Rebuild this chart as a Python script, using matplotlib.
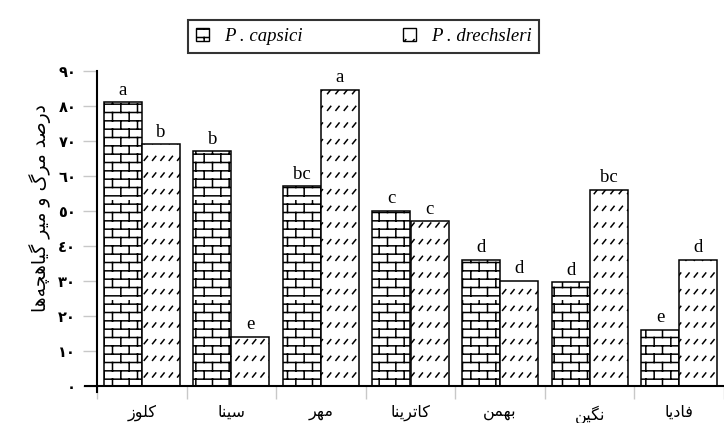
import numpy as np
import matplotlib
matplotlib.use('Agg')
import matplotlib.pyplot as plt
import matplotlib.hatch as mhatch
from matplotlib.path import Path
from matplotlib.patches import Patch

# cultivar names, already in shaped (presentation) form, visual order
cultivars = [
    '\uFEAF\uFEEE\uFEE0\uFB90',                      # کلوز
    '\uFE8E\uFEE8\uFBFF\uFEB3',                      # سینا
    '\uFEAE\uFEEC\uFEE3',                            # مهر
    '\uFE8E\uFEE8\uFBFE\uFEAE\uFE97\uFE8E\uFB90',    # کاترینا
    '\uFEE6\uFEE4\uFEEC\uFE91',                      # بهمن
    '\uFEE6\uFBFF\uFB95\uFEE7',                      # نگین
    '\uFE8E\uFBFE\uFEA9\uFE8E\uFED3',                # فادیا
]
capsici = [81, 67, 57, 50, 36, 29.5, 16]
drechsleri = [69, 14, 84.5, 47, 30, 56, 36]
capsici_groups = ['a', 'b', 'bc', 'c', 'd', 'd', 'e']
drechsleri_groups = ['b', 'e', 'a', 'c', 'd', 'bc', 'd']
y_ticks = [0, 10, 20, 30, 40, 50, 60, 70, 80, 90]
y_tick_labels = ['\u0660', '\u0661\u0660', '\u0662\u0660', '\u0663\u0660', '\u0664\u0660',
                 '\u0665\u0660', '\u0666\u0660', '\u0667\u0660', '\u0668\u0660', '\u0669\u0660']
# درصد مرگ و میر گیاهچه‌ها
y_title = ('\uFE8E\uFEEB\uFEEA\uFB7D\uFEEB\uFE8E\uFBFF\uFB94 '
           '\uFEAE\uFBFF\uFEE3 \uFEED \uFB92\uFEAE\uFEE3 '
           '\uFEAA\uFEBB\uFEAD\uFEA9')
series_names = ['P . capsici', 'P . drechsleri']


class BrickHatch(mhatch.HatchPatternBase):
    """brick wall, used for '*'"""
    rows = 12
    cols = 6

    def __init__(self, hatch, density):
        self.on = '*' in hatch
        self.num_vertices = (self.rows * 2 + self.rows * self.cols * 2) if self.on else 0

    def set_vertices_and_codes(self, vertices, codes):
        v = []
        for r in range(self.rows):
            y = (r + 0.5) / self.rows
            v += [(0.0, y), (1.0, y)]
        for r in range(self.rows):
            y0 = (r + 0.5) / self.rows
            y1 = (r + 1.5) / self.rows
            for j in range(self.cols):
                x = (j + 0.25 + 0.5 * (r % 2)) / self.cols
                v += [(x, y0), (x, y1)]
        vertices[:] = np.array(v)
        codes[0::2] = Path.MOVETO
        codes[1::2] = Path.LINETO


class DashHatch(mhatch.HatchPatternBase):
    """rows of short slanted strokes, used for 'o'"""
    rows = 6
    cols = 12

    def __init__(self, hatch, density):
        self.on = 'o' in hatch
        self.num_vertices = self.rows * self.cols * 2 if self.on else 0

    def set_vertices_and_codes(self, vertices, codes):
        v = []
        for r in range(self.rows):
            y = (r + 0.5) / self.rows
            for j in range(self.cols):
                x = (j + 0.5) / self.cols
                v += [(x - 0.016, y - 0.02), (x + 0.016, y + 0.02)]
        vertices[:] = np.array(v)
        codes[0::2] = Path.MOVETO
        codes[1::2] = Path.LINETO


mhatch._hatch_types = [t for t in mhatch._hatch_types
                       if t not in (mhatch.Stars, mhatch.SmallCircles)] + [BrickHatch, DashHatch]

plt.rcParams['hatch.linewidth'] = 1.1


def main():
    fig = plt.figure(figsize=(7.24, 4.23), dpi=100)
    ax = fig.add_axes([97 / 724, 1 - 385.5 / 423, 1 - 97 / 724, 315 / 423])

    x = np.arange(len(cultivars))
    w = 0.425
    ax.bar(x - w / 2, capsici, w, color='white', edgecolor='black', linewidth=1.1, hatch='*')
    ax.bar(x + w / 2, drechsleri, w, color='white', edgecolor='black', linewidth=1.1, hatch='o')

    for xi, v, g in zip(x - w / 2, capsici, capsici_groups):
        ax.text(xi, v + 1.0, g, ha='center', va='bottom', fontsize=13.5, family='Liberation Serif')
    for xi, v, g in zip(x + w / 2, drechsleri, drechsleri_groups):
        ax.text(xi, v + 1.0, g, ha='center', va='bottom', fontsize=13.5, family='Liberation Serif')

    ax.set_xlim(-0.5, len(cultivars) - 0.5)
    ax.set_ylim(0, 90)
    ax.set_yticks(y_ticks)
    ax.set_yticklabels(y_tick_labels, family='DejaVu Sans', fontsize=10.5, fontweight='bold')
    ax.set_xticks(np.arange(len(cultivars) + 1) - 0.5)
    ax.set_xticklabels([])
    ax.set_xticks(x, minor=True)
    ax.set_xticklabels(cultivars, minor=True, family='DejaVu Sans', fontsize=11.5)
    ax.tick_params(axis='x', which='major', length=9, color='#c8c8c8', width=1)
    ax.tick_params(axis='x', which='minor', length=0, pad=14)
    ax.tick_params(axis='y', length=10, color='#c8c8c8', width=1, pad=5)

    for s in ['top', 'right']:
        ax.spines[s].set_visible(False)
    ax.spines['left'].set_linewidth(1.5)
    ax.spines['bottom'].set_linewidth(1.5)
    ax.spines['left'].set_bounds(-1.8, 90)
    ax.spines['bottom'].set_bounds(-0.63, len(cultivars) - 0.5)

    fig.text(40 / 724, 1 - 208 / 423, y_title, rotation=90, ha='center', va='center',
             family='DejaVu Sans', fontsize=13.5)

    handles = [Patch(facecolor='white', edgecolor='black', hatch='*', linewidth=1),
               Patch(facecolor='white', edgecolor='black', hatch='o', linewidth=1)]
    leg = fig.legend(handles, series_names, ncol=2, mode='expand', loc='center',
                     bbox_to_anchor=(188 / 724, 1 - 59 / 423, 351 / 724, 45 / 423),
                     prop={'family': 'Liberation Serif', 'style': 'italic', 'size': 13.5},
                     frameon=True, fancybox=False, handlelength=0.7, handleheight=0.7,
                     handletextpad=0.8, borderaxespad=0)
    leg.get_frame().set_edgecolor('black')
    leg.get_frame().set_linewidth(1.5)

    fig.savefig('out.png', dpi=100)


if __name__ == '__main__':
    main()
